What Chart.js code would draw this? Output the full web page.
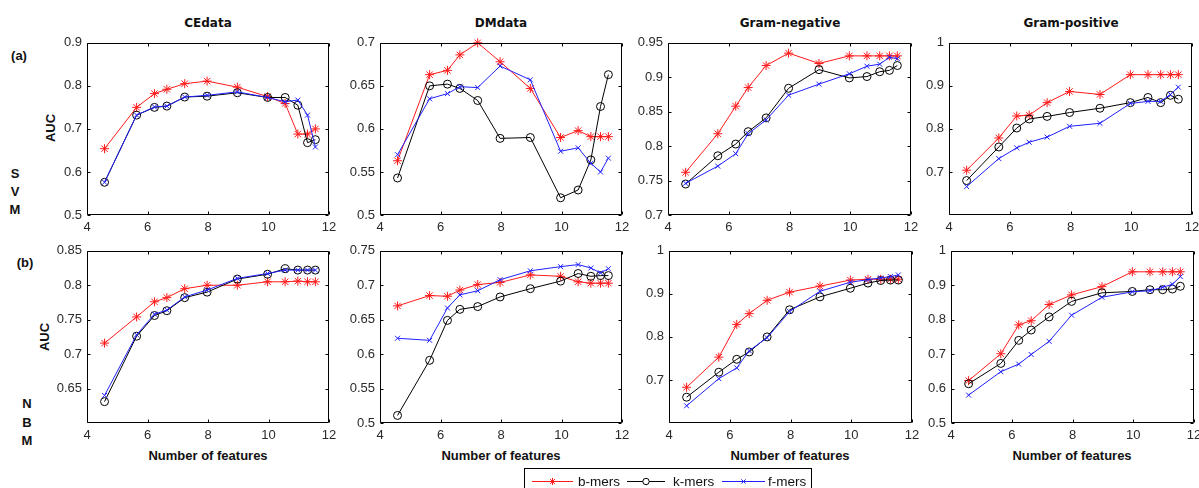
<!DOCTYPE html>
<html>
<head>
<meta charset="utf-8">
<script src="https://cdn.jsdelivr.net/npm/chart.js@4.4.1/dist/chart.umd.min.js"></script>
<style>
  html, body { margin: 0; padding: 0; background: #fff; width: 1199px; height: 488px; overflow: hidden; }
  body { position: relative; font-family: "Liberation Sans", Arial, sans-serif; }
  canvas { position: absolute; }
  .lbl { position: absolute; transform: translate(-50%, -50%); font-weight: bold; font-size: 13px; color: #111; white-space: nowrap; }
  .title { font-family: "DejaVu Sans", sans-serif; font-size: 12px; }
  .rot { transform: translate(-50%, -50%) rotate(-90deg); }
</style>
</head>
<body>
<div class="lbl title" style="left:208px;top:23px">CEdata</div>
<div class="lbl title" style="left:501px;top:23px">DMdata</div>
<div class="lbl title" style="left:790px;top:23px">Gram-negative</div>
<div class="lbl title" style="left:1071px;top:23px">Gram-positive</div>

<div class="lbl" style="left:19px;top:55px">(a)</div>
<div class="lbl" style="left:15px;top:173px">S</div>
<div class="lbl" style="left:15px;top:191px">V</div>
<div class="lbl" style="left:15px;top:209px">M</div>
<div class="lbl rot" style="left:50px;top:128px">AUC</div>

<div class="lbl" style="left:25px;top:262px">(b)</div>
<div class="lbl" style="left:27px;top:403px">N</div>
<div class="lbl" style="left:27px;top:422px">B</div>
<div class="lbl" style="left:27px;top:440px">M</div>
<div class="lbl rot" style="left:44px;top:337px">AUC</div>

<div class="lbl" style="left:208px;top:455px">Number of features</div>
<div class="lbl" style="left:501px;top:455px">Number of features</div>
<div class="lbl" style="left:790px;top:455px">Number of features</div>
<div class="lbl" style="left:1072px;top:455px">Number of features</div>

<script>
// x positions (log2 of the feature counts)
const features = [4.58, 5.64, 6.23, 6.64, 7.23, 7.97, 8.97, 9.97, 10.55, 10.97, 11.29, 11.55];
const xTicks = [4, 6, 8, 10, 12];

// (a) SVM
const svmCE_b = [0.654, 0.750, 0.782, 0.792, 0.805, 0.811, 0.797, 0.775, 0.759, 0.688, 0.688, 0.700];
const svmCE_k = [0.576, 0.732, 0.750, 0.753, 0.774, 0.776, 0.784, 0.773, 0.773, 0.755, 0.668, 0.675];
const svmCE_f = [0.576, 0.732, 0.751, 0.753, 0.774, 0.778, 0.786, 0.773, 0.763, 0.767, 0.732, 0.658];

const svmDM_b = [0.563, 0.663, 0.668, 0.686, 0.700, 0.678, 0.647, 0.590, 0.598, 0.591, 0.591, 0.591];
const svmDM_k = [0.543, 0.650, 0.652, 0.647, 0.633, 0.589, 0.590, 0.520, 0.529, 0.564, 0.626, 0.663];
const svmDM_f = [0.570, 0.635, 0.641, 0.649, 0.648, 0.673, 0.657, 0.574, 0.578, 0.560, 0.550, 0.566];

const svmGN_b = [0.762, 0.818, 0.858, 0.885, 0.917, 0.935, 0.920, 0.931, 0.931, 0.931, 0.931, 0.931];
const svmGN_k = [0.745, 0.786, 0.803, 0.821, 0.841, 0.884, 0.911, 0.899, 0.901, 0.908, 0.910, 0.917];
const svmGN_f = [0.746, 0.771, 0.789, 0.818, 0.838, 0.874, 0.890, 0.905, 0.916, 0.919, 0.929, 0.927];

const svmGP_b = [0.704, 0.779, 0.830, 0.832, 0.861, 0.887, 0.880, 0.926, 0.926, 0.926, 0.926, 0.926];
const svmGP_k = [0.680, 0.758, 0.802, 0.823, 0.829, 0.838, 0.848, 0.861, 0.873, 0.861, 0.878, 0.869];
const svmGP_f = [0.666, 0.731, 0.756, 0.769, 0.781, 0.806, 0.813, 0.859, 0.864, 0.864, 0.880, 0.897];

// (b) NBM
const nbCE_b = [0.716, 0.754, 0.776, 0.782, 0.795, 0.800, 0.800, 0.805, 0.805, 0.806, 0.805, 0.805];
const nbCE_k = [0.631, 0.726, 0.756, 0.763, 0.782, 0.790, 0.809, 0.816, 0.824, 0.822, 0.822, 0.822];
const nbCE_f = [0.640, 0.728, 0.758, 0.764, 0.783, 0.793, 0.810, 0.817, 0.822, 0.822, 0.822, 0.822];

const nbDM_b = [0.670, 0.685, 0.684, 0.693, 0.701, 0.704, 0.715, 0.713, 0.705, 0.703, 0.703, 0.703];
const nbDM_k = [0.511, 0.591, 0.649, 0.665, 0.669, 0.683, 0.695, 0.706, 0.717, 0.713, 0.714, 0.714];
const nbDM_f = [0.623, 0.620, 0.667, 0.686, 0.692, 0.708, 0.721, 0.727, 0.730, 0.725, 0.718, 0.724];

const nbGN_b = [0.683, 0.753, 0.829, 0.854, 0.885, 0.904, 0.918, 0.932, 0.934, 0.934, 0.934, 0.934];
const nbGN_k = [0.660, 0.718, 0.748, 0.765, 0.800, 0.863, 0.893, 0.913, 0.925, 0.931, 0.932, 0.932];
const nbGN_f = [0.640, 0.703, 0.728, 0.768, 0.798, 0.859, 0.906, 0.927, 0.933, 0.937, 0.940, 0.944];

const nbGP_b = [0.623, 0.701, 0.785, 0.797, 0.844, 0.872, 0.896, 0.939, 0.939, 0.939, 0.939, 0.939];
const nbGP_k = [0.614, 0.673, 0.740, 0.770, 0.808, 0.853, 0.878, 0.882, 0.887, 0.887, 0.889, 0.897];
const nbGP_f = [0.581, 0.649, 0.671, 0.699, 0.737, 0.813, 0.865, 0.881, 0.884, 0.894, 0.903, 0.925];

// y tick labels per panel
const ticksCE_a = [0.5, 0.6, 0.7, 0.8, 0.9];
const ticksDM_a = [0.5, 0.55, 0.6, 0.65, 0.7];
const ticksGN_a = [0.7, 0.75, 0.8, 0.85, 0.9, 0.95];
const ticksGP_a = [0.7, 0.8, 0.9, 1];
const ticksCE_b = [0.65, 0.7, 0.75, 0.8, 0.85];
const ticksDM_b = [0.5, 0.55, 0.6, 0.65, 0.7, 0.75];
const ticksGN_b = [0.7, 0.8, 0.9, 1];
const ticksGP_b = [0.5, 0.6, 0.7, 0.8, 0.9, 1];

const seriesNames = ["b-mers", "k-mers", "f-mers"];
const RED = "#ff1a1a", BLACK = "#000000", BLUE = "#2020ff";

// Box + inward tick marks, MATLAB style
const boxTicks = {
  id: "boxTicks",
  afterDraw(chart) {
    const { ctx, chartArea: a, scales: { x, y } } = chart;
    const L = Math.round(a.left) + 0.5, R = Math.round(a.right) - 0.5;
    const T = Math.round(a.top) + 0.5, B = Math.round(a.bottom) - 0.5;
    ctx.save();
    ctx.strokeStyle = "#000";
    ctx.lineWidth = 1;
    ctx.beginPath();
    ctx.rect(L, T, R - L, B - T);
    x.ticks.forEach(t => {
      const px = Math.round(x.getPixelForValue(t.value)) + 0.5;
      ctx.moveTo(px, B); ctx.lineTo(px, B - 3);
      ctx.moveTo(px, T); ctx.lineTo(px, T + 3);
    });
    y.ticks.forEach(t => {
      const py = Math.round(y.getPixelForValue(t.value)) + 0.5;
      ctx.moveTo(L, py); ctx.lineTo(L + 3, py);
      ctx.moveTo(R, py); ctx.lineTo(R - 3, py);
    });
    ctx.stroke();
    ctx.restore();
  }
};

const tickFont = { family: "'Liberation Sans', Arial, sans-serif", size: 13 };

function makePanel(left, top, w, h, yMin, yMax, yTicks, b, k, f) {
  const padL = 45, padT = 10, padR = 14, axisH = 22;
  const cv = document.createElement("canvas");
  cv.width = w + padL + padR;
  cv.height = h + padT + axisH;
  cv.style.left = (left - padL) + "px";
  cv.style.top = (top - padT) + "px";
  document.body.appendChild(cv);

  const pts = arr => arr.map((v, i) => ({ x: features[i], y: v }));

  new Chart(cv.getContext("2d"), {
    type: "line",
    data: {
      datasets: [
        { label: seriesNames[0], data: pts(b), borderColor: RED, backgroundColor: RED,
          pointStyle: "star", pointRadius: 4.5, pointBorderColor: RED, order: 3 },
        { label: seriesNames[1], data: pts(k), borderColor: BLACK, backgroundColor: "rgba(0,0,0,0)",
          pointStyle: "circle", pointRadius: 4, pointBorderColor: BLACK, pointBackgroundColor: "rgba(0,0,0,0)", order: 2 },
        { label: seriesNames[2], data: pts(f), borderColor: BLUE, backgroundColor: BLUE,
          pointStyle: "crossRot", pointRadius: 3.5, pointBorderColor: BLUE, order: 1 }
      ].map(d => Object.assign(d, { borderWidth: 1, pointBorderWidth: 1, tension: 0, clip: false, fill: false }))
    },
    options: {
      responsive: false,
      animation: false,
      devicePixelRatio: 1,
      layout: { padding: { left: 0, top: padT, right: padR, bottom: 0 } },
      plugins: { legend: { display: false }, tooltip: { enabled: false } },
      scales: {
        x: {
          type: "linear", min: 4, max: 12,
          afterBuildTicks: axis => { axis.ticks = xTicks.map(v => ({ value: v })); },
          afterFit: axis => { axis.height = axisH; },
          grid: { display: false, drawTicks: false },
          border: { display: false },
          ticks: { color: "#2a2a2a", font: tickFont, padding: 5, maxRotation: 0, callback: v => String(v) }
        },
        y: {
          type: "linear", min: yMin, max: yMax,
          afterBuildTicks: axis => { axis.ticks = yTicks.map(v => ({ value: v })); },
          afterFit: axis => { axis.width = padL; },
          grid: { display: false, drawTicks: false },
          border: { display: false },
          ticks: { color: "#2a2a2a", font: tickFont, padding: 5, callback: v => String(+v.toFixed(2)) }
        }
      }
    },
    plugins: [boxTicks]
  });
}

// top row: SVM
makePanel(87, 40, 242, 175, 0.5, 0.9, ticksCE_a, svmCE_b, svmCE_k, svmCE_f);
makePanel(380, 40, 242, 175, 0.5, 0.7, ticksDM_a, svmDM_b, svmDM_k, svmDM_f);
makePanel(668, 40, 243, 175, 0.7, 0.95, ticksGN_a, svmGN_b, svmGN_k, svmGN_f);
makePanel(949, 40, 243, 175, 0.6, 1.0, ticksGP_a, svmGP_b, svmGP_k, svmGP_f);

// bottom row: NBM
makePanel(87, 248, 242, 175, 0.6, 0.85, ticksCE_b, nbCE_b, nbCE_k, nbCE_f);
makePanel(380, 248, 242, 175, 0.5, 0.75, ticksDM_b, nbDM_b, nbDM_k, nbDM_f);
makePanel(669, 248, 243, 175, 0.6, 1.0, ticksGN_b, nbGN_b, nbGN_k, nbGN_f);
makePanel(951, 248, 243, 175, 0.5, 1.0, ticksGP_b, nbGP_b, nbGP_k, nbGP_f);

// Legend box at the bottom
(function drawLegend() {
  const cv = document.createElement("canvas");
  cv.width = 288; cv.height = 24;
  cv.style.left = "524px"; cv.style.top = "468px";
  document.body.appendChild(cv);
  const ctx = cv.getContext("2d");
  ctx.strokeStyle = "#000"; ctx.lineWidth = 1;
  ctx.strokeRect(0.5, 0.5, 287, 30);

  const items = [
    { name: seriesNames[0], color: RED, style: "star", r: 3.5, x0: 8, x1: 49, text: 54 },
    { name: seriesNames[1], color: BLACK, style: "circle", r: 3.2, x0: 103, x1: 141, text: 149 },
    { name: seriesNames[2], color: BLUE, style: "crossRot", r: 3, x0: 198, x1: 241, text: 244 }
  ];
  const y = 13.5;
  ctx.font = "13.5px 'Liberation Sans', Arial, sans-serif";
  ctx.textBaseline = "middle";
  items.forEach(it => {
    ctx.strokeStyle = it.color; ctx.lineWidth = 1;
    ctx.beginPath(); ctx.moveTo(it.x0, y); ctx.lineTo(it.x1, y); ctx.stroke();
    const cx = (it.x0 + it.x1) / 2;
    ctx.fillStyle = it.style === "circle" ? "#fff" : it.color;
    Chart.helpers.drawPoint(ctx, { pointStyle: it.style, radius: it.r, rotation: 0, borderWidth: 1 }, cx, y);
    ctx.fillStyle = "#111";
    ctx.fillText(it.name, it.text, y + 0.5);
  });
})();
</script>
</body>
</html>
